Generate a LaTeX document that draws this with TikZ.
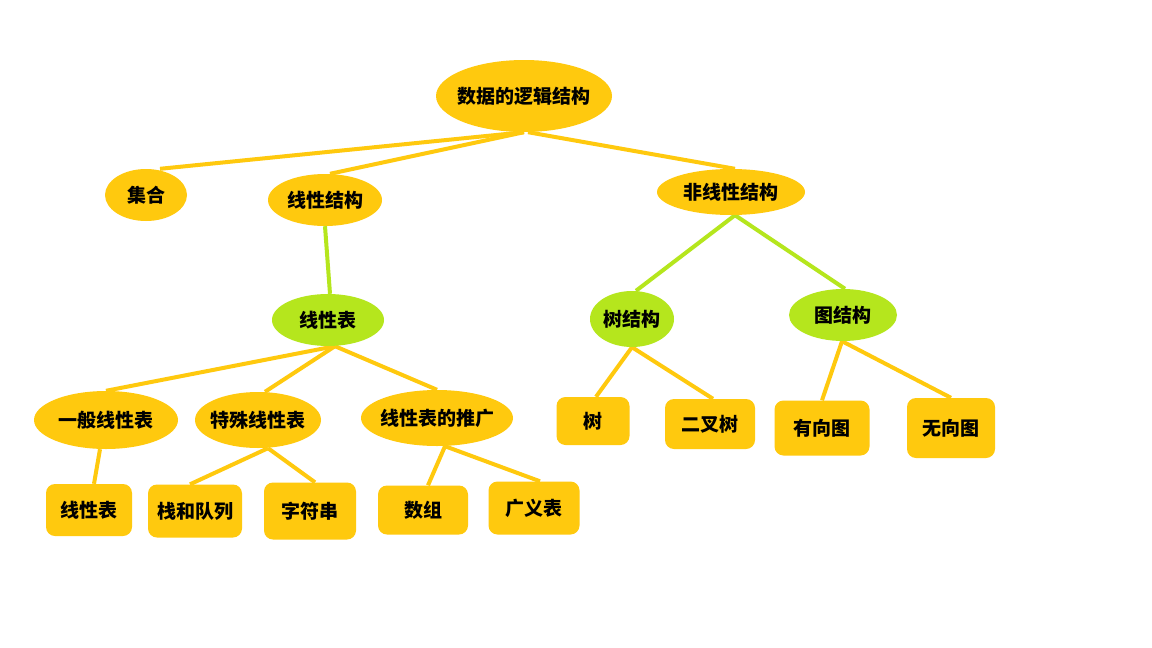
\documentclass[tikz,border=0pt]{standalone}
\usepackage{fontspec}
\newfontfamily\cjk{Noto Sans CJK SC}
\usetikzlibrary{shapes.geometric,backgrounds}
\definecolor{gold}{RGB}{255,201,14}
\definecolor{lime}{RGB}{181,230,29}
\begin{document}
\begin{tikzpicture}[x=1pt,y=-1pt,
  every node/.style={font=\cjk\bfseries\fontsize{19}{19}\selectfont, text=black, inner sep=0pt},
  oval/.style={ellipse, fill=gold, inner xsep=-20pt},
  greenoval/.style={ellipse, fill=lime, inner xsep=-20pt},
  leaf/.style={rectangle, rounded corners=9pt, fill=gold},
  link/.style={draw=gold, line width=4pt},
  greenlink/.style={draw=lime, line width=4pt}]
\useasboundingbox (0,0) rectangle (1152,648);

% top level
\node[oval, minimum width=176pt, minimum height=72pt] (root) at (524,96) {数据的逻辑结构};
\node[oval, minimum width=82pt, minimum height=52pt] (set) at (146,195) {集合};
\node[oval, minimum width=114pt, minimum height=52pt] (linear) at (325,200) {线性结构};
\node[oval, minimum width=148pt, minimum height=46pt] (nonlinear) at (731,192) {非线性结构};

% second level
\node[greenoval, minimum width=112pt, minimum height=52pt] (list) at (328,320) {线性表};
\node[greenoval, minimum width=84pt, minimum height=56pt] (treeS) at (632,319) {树结构};
\node[greenoval, minimum width=108pt, minimum height=52pt] (graphS) at (843,315) {图结构};

% kinds of linear lists
\node[oval, minimum width=144pt, minimum height=58pt] (general) at (106,420) {一般线性表};
\node[oval, minimum width=126pt, minimum height=56pt] (special) at (258,420) {特殊线性表};
\node[oval, minimum width=152pt, minimum height=56pt] (extended) at (437,418) {线性表的推广};

% leaves
\node[leaf, minimum width=86pt, minimum height=52pt] (l1) at (89,510) {线性表};
\node[leaf, minimum width=94pt, minimum height=53pt] (l2) at (195,511) {栈和队列};
\node[leaf, minimum width=92pt, minimum height=57pt] (l3) at (310,511) {字符串};
\node[leaf, minimum width=90pt, minimum height=49pt] (l4) at (423,510) {数组};
\node[leaf, minimum width=91pt, minimum height=53pt] (l5) at (534,508) {广义表};
\node[leaf, minimum width=73pt, minimum height=48pt] (t1) at (593,421) {树};
\node[leaf, minimum width=90pt, minimum height=50pt] (t2) at (710,424) {二叉树};
\node[leaf, minimum width=95pt, minimum height=55pt] (g1) at (822,428) {有向图};
\node[leaf, minimum width=88pt, minimum height=60pt] (g2) at (951,428) {无向图};

\begin{scope}[on background layer]
  \fill[white] (0,0) rectangle (1152,648);
  \draw[link] (root.south) -- ([xshift=14pt]set.north);
  \draw[link] (root.south) -- ([xshift=5pt]linear.north);
  \draw[link] ([xshift=4pt]root.south) -- ([xshift=4pt]nonlinear.north);
  \draw[greenlink] (linear.south) -- ([xshift=2pt]list.north);
  \draw[greenlink] ([xshift=4pt]nonlinear.south) -- ([xshift=4pt]treeS.north);
  \draw[greenlink] ([xshift=4pt]nonlinear.south) -- ([xshift=2pt]graphS.north);
  \draw[link] ([xshift=7pt]list.south) -- (general.north);
  \draw[link] ([xshift=7pt]list.south) -- ([xshift=7pt]special.north);
  \draw[link] ([xshift=7pt]list.south) -- (extended.north);
  \draw[link] ([xshift=-6pt]general.south) -- ([xshift=5pt]l1.north);
  \draw[link] ([xshift=10pt]special.south) -- ([xshift=-5pt]l2.north);
  \draw[link] ([xshift=10pt]special.south) -- ([xshift=5pt]l3.north);
  \draw[link] ([xshift=8pt]extended.south) -- ([xshift=5pt]l4.north);
  \draw[link] ([xshift=8pt]extended.south) -- ([xshift=6pt]l5.north);
  \draw[link] (treeS.south) -- ([xshift=3pt]t1.north);
  \draw[link] (treeS.south) -- ([xshift=3pt]t2.north);
  \draw[link] ([xshift=-1pt]graphS.south) -- (g1.north);
  \draw[link] ([xshift=-1pt]graphS.south) -- (g2.north);
\end{scope}
\end{tikzpicture}
\end{document}
